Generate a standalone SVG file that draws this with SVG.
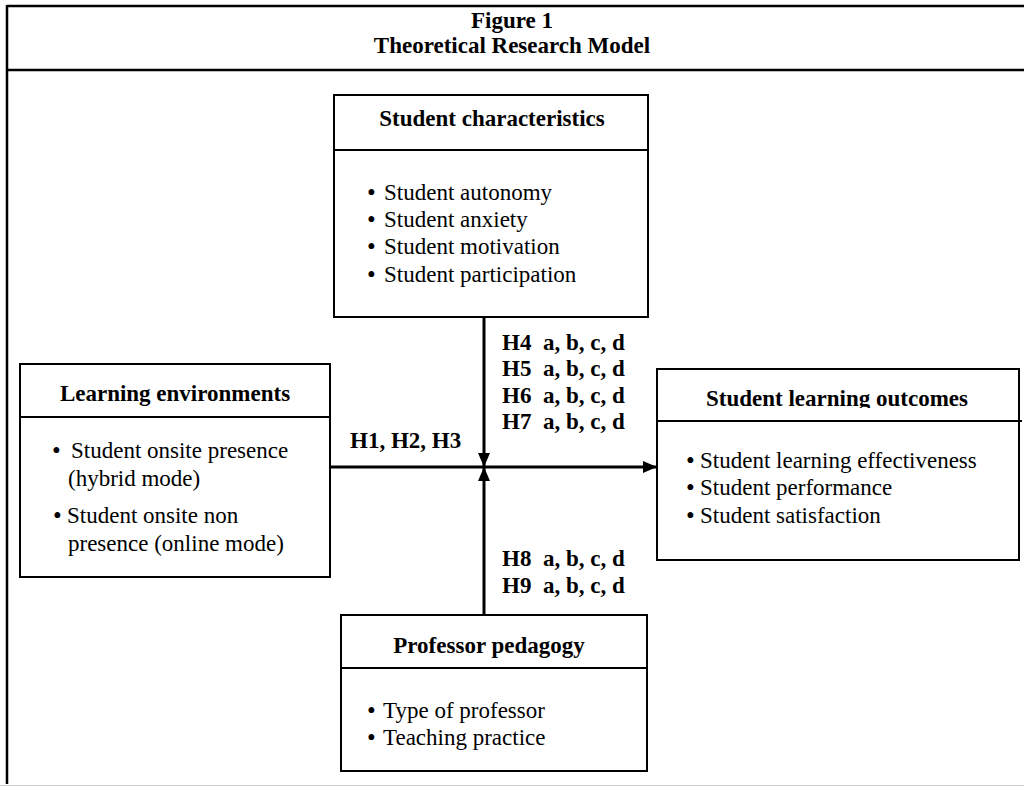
<svg xmlns="http://www.w3.org/2000/svg" width="1024" height="787" viewBox="0 0 1024 787">
<style>
text{font-family:"Liberation Serif","Times New Roman",serif;font-size:23px;fill:#000}
.b{font-weight:bold}
.bl{font-size:25px}
.box{fill:#fff;stroke:#000;stroke-width:2}
.sep{stroke:#000;stroke-width:2}
.frame{stroke:#000;stroke-width:2.5;fill:none}
.conn{stroke:#000;stroke-width:3;fill:none}
</style>
<defs>
<marker id="ah" viewBox="0 0 14 12" refX="14" refY="6" markerWidth="14" markerHeight="12" markerUnits="userSpaceOnUse" orient="auto">
<path d="M0,0 L14,6 L0,12 Z" fill="#000"/>
</marker>
<clipPath id="clipOut"><rect x="657" y="369" width="362" height="39"/></clipPath>
</defs>
<rect width="1024" height="787" fill="#fff"/>
<g id="frame">
<line class="frame" x1="7" y1="6" x2="1024" y2="6"/>
<line class="frame" x1="7" y1="5" x2="7" y2="784"/>
<line class="frame" x1="7" y1="70" x2="1024" y2="70"/>
<line x1="0" y1="785.5" x2="1024" y2="785.5" stroke="#cfcfcf" stroke-width="1"/>
<text class="b" x="512" y="28" text-anchor="middle">Figure 1</text>
<text class="b" x="512" y="53" text-anchor="middle">Theoretical Research Model</text>
</g>
<g id="connectors">
<line class="conn" x1="484" y1="317" x2="484" y2="467" marker-end="url(#ah)"/>
<line class="conn" x1="484" y1="615" x2="484" y2="467" marker-end="url(#ah)"/>
<line class="conn" x1="330" y1="467" x2="657" y2="467" marker-end="url(#ah)"/>
<text class="b" x="350" y="448">H1, H2, H3</text>
<text class="b" x="502" y="350" xml:space="preserve">H4  a, b, c, d</text>
<text class="b" x="502" y="376" xml:space="preserve">H5  a, b, c, d</text>
<text class="b" x="502" y="403" xml:space="preserve">H6  a, b, c, d</text>
<text class="b" x="502" y="429" xml:space="preserve">H7  a, b, c, d</text>
<text class="b" x="502" y="566" xml:space="preserve">H8  a, b, c, d</text>
<text class="b" x="502" y="593" xml:space="preserve">H9  a, b, c, d</text>
</g>
<g id="student-characteristics">
<rect class="box" x="334" y="95" width="314" height="222"/>
<line class="sep" x1="334" y1="150" x2="648" y2="150"/>
<text class="b" x="492" y="126" text-anchor="middle">Student characteristics</text>
<text y="200"><tspan class="bl" x="367" dy="1">•</tspan><tspan x="384" dy="-1">Student autonomy</tspan></text>
<text y="227"><tspan class="bl" x="367" dy="1">•</tspan><tspan x="384" dy="-1">Student anxiety</tspan></text>
<text y="254"><tspan class="bl" x="367" dy="1">•</tspan><tspan x="384" dy="-1">Student motivation</tspan></text>
<text y="282"><tspan class="bl" x="367" dy="1">•</tspan><tspan x="384" dy="-1">Student participation</tspan></text>
</g>
<g id="learning-environments">
<rect class="box" x="20" y="364" width="310" height="213"/>
<line class="sep" x1="20" y1="417" x2="330" y2="417"/>
<text class="b" x="175" y="401" text-anchor="middle">Learning environments</text>
<text y="458"><tspan class="bl" x="52" dy="1">•</tspan><tspan x="71" dy="-1">Student onsite presence</tspan></text>
<text x="68" y="486">(hybrid mode)</text>
<text y="523"><tspan class="bl" x="53" dy="1">•</tspan><tspan x="67" dy="-1">Student onsite non</tspan></text>
<text x="68" y="551">presence (online mode)</text>
</g>
<g id="student-learning-outcomes">
<rect class="box" x="657" y="369" width="362" height="191"/>
<line class="sep" x1="657" y1="421" x2="1022" y2="421"/>
<text class="b" x="837" y="406" text-anchor="middle" clip-path="url(#clipOut)">Student learning outcomes</text>
<text y="468"><tspan class="bl" x="686" dy="1">•</tspan><tspan x="700" dy="-1">Student learning effectiveness</tspan></text>
<text y="495"><tspan class="bl" x="686" dy="1">•</tspan><tspan x="700" dy="-1">Student performance</tspan></text>
<text y="523"><tspan class="bl" x="686" dy="1">•</tspan><tspan x="700" dy="-1">Student satisfaction</tspan></text>
</g>
<g id="professor-pedagogy">
<rect class="box" x="341" y="615" width="306" height="156"/>
<line class="sep" x1="341" y1="668" x2="647" y2="668"/>
<text class="b" x="489" y="653" text-anchor="middle">Professor pedagogy</text>
<text y="718"><tspan class="bl" x="367" dy="1">•</tspan><tspan x="383" dy="-1">Type of professor</tspan></text>
<text y="745"><tspan class="bl" x="367" dy="1">•</tspan><tspan x="383" dy="-1">Teaching practice</tspan></text>
</g>
</svg>
